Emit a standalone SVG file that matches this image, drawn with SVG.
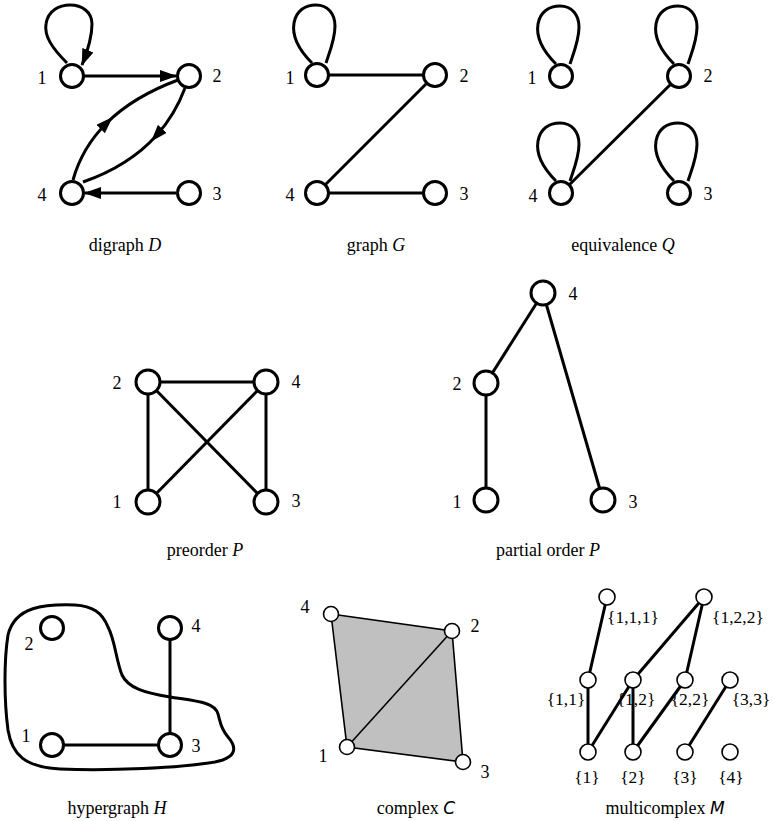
<svg xmlns="http://www.w3.org/2000/svg" xmlns:xlink="http://www.w3.org/1999/xlink" width="774" height="821" viewBox="0 0 774 821">
<style>
.n{fill:#fff;stroke:#000;stroke-width:3}
.sn{fill:#fff;stroke:#000;stroke-width:1.6}
.e{fill:none;stroke:#000;stroke-width:3}
.te{fill:none;stroke:#000;stroke-width:1.6}
.t{font-family:"Liberation Serif","Times New Roman",serif;font-size:18px;fill:#000}
.c{text-anchor:middle}
.i{font-style:italic}
.cal{font-family:"DejaVu Sans","Liberation Sans",sans-serif;font-style:italic;font-size:17px}
.ml{font-family:"Liberation Serif","Times New Roman",serif;font-size:17.5px;text-anchor:middle}
</style>
<defs>
<marker id="arr" markerUnits="userSpaceOnUse" viewBox="0 0 17 12" markerWidth="17" markerHeight="12" refX="16" refY="6" orient="auto"><path d="M0,0 L17,6 L0,12 z" fill="#000"/></marker>
<marker id="arrm" markerUnits="userSpaceOnUse" viewBox="0 0 17 12" markerWidth="17" markerHeight="12" refX="8.5" refY="6" orient="auto"><path d="M0,0 L17,6 L0,12 z" fill="#000"/></marker>
<path id="loop" d="M-5,-12 C-20,-27 -25,-40 -23,-52 C-21,-64 -12,-70 -1,-70 C11,-70 18,-61 18,-49 C18,-36 13,-24 9,-12"/>
</defs>

<g id="connectors">
  <!-- digraph D -->
  <path class="e" d="M67,63 C52,48 44,36 46,24 C48,10 60,5 70,5 C82,5 92,12 92,24 C92,36 88,50 82,65" marker-end="url(#arr)"/>
  <line class="e" x1="84" y1="76" x2="176" y2="76" marker-end="url(#arr)"/>
  <line class="e" x1="176" y1="193" x2="85" y2="193" marker-end="url(#arr)"/>
  <path class="e" d="M73,180 Q82.1,147.4 106.7,123" marker-end="url(#arrm)"/>
  <path class="e" d="M106.7,123 Q133.3,96.6 178,80"/>
  <path class="e" d="M185,88 Q175,114.8 156.7,135.2" marker-end="url(#arrm)"/>
  <path class="e" d="M156.7,135.2 Q129.2,165.8 83,182"/>
  <!-- graph G -->
  <use href="#loop" xlink:href="#loop" class="e" x="317" y="75"/>
  <line class="e" x1="317" y1="75" x2="435" y2="75"/>
  <line class="e" x1="435" y1="75" x2="317" y2="193"/>
  <line class="e" x1="317" y1="193" x2="435" y2="193"/>
  <!-- equivalence Q -->
  <use href="#loop" xlink:href="#loop" class="e" x="561" y="76"/>
  <use href="#loop" xlink:href="#loop" class="e" x="679" y="76"/>
  <use href="#loop" xlink:href="#loop" class="e" x="561" y="193"/>
  <use href="#loop" xlink:href="#loop" class="e" x="679" y="193"/>
  <line class="e" x1="679" y1="76" x2="561" y2="193"/>
  <!-- preorder P -->
  <line class="e" x1="148" y1="382" x2="266" y2="382"/>
  <line class="e" x1="148" y1="382" x2="148" y2="502"/>
  <line class="e" x1="266" y1="382" x2="266" y2="502"/>
  <line class="e" x1="148" y1="382" x2="266" y2="502"/>
  <line class="e" x1="266" y1="382" x2="148" y2="502"/>
  <!-- partial order P -->
  <line class="e" x1="543" y1="293" x2="486" y2="383"/>
  <line class="e" x1="543" y1="293" x2="603" y2="500"/>
  <line class="e" x1="486" y1="383" x2="486" y2="500"/>
  <!-- hypergraph H -->
  <path id="hyperedge" class="e" d="M75,605 C45,604 15,606 8,635 C4,660 4,700 8,730 C12,755 25,767 60,769 C110,771 180,768 215,762 C240,757 235,745 228,737 C220,728 220,720 218,714 C215,702 195,701 170,697 C145,693 128,688 122,675 C116,660 115,640 108,627 C102,612 92,606 75,605 Z"/>
  <line class="e" x1="52" y1="745" x2="170" y2="745"/>
  <line class="e" x1="170" y1="628" x2="170" y2="745"/>
  <!-- complex C -->
  <polygon points="331,614 452,631 463,762 347,747" fill="#c0c0c0" stroke="#000" stroke-width="1.6"/>
  <line class="te" x1="347" y1="747" x2="452" y2="631"/>
  <!-- multicomplex M -->
  <line class="e" x1="607" y1="597" x2="588" y2="680"/>
  <line class="e" x1="704" y1="597" x2="633" y2="680"/>
  <line class="e" x1="704" y1="597" x2="685" y2="680"/>
  <line class="e" x1="588" y1="680" x2="588" y2="752"/>
  <line class="e" x1="633" y1="680" x2="588" y2="752"/>
  <line class="e" x1="633" y1="680" x2="633" y2="752"/>
  <line class="e" x1="685" y1="680" x2="633" y2="752"/>
  <line class="e" x1="730" y1="680" x2="685" y2="752"/>
</g>

<g id="D">
  <g id="D1"><circle class="n" cx="72" cy="76" r="11.5"/><text class="t c" x="42" y="84">1</text></g>
  <g id="D2"><circle class="n" cx="189" cy="76" r="11.5"/><text class="t c" x="217" y="82">2</text></g>
  <g id="D4"><circle class="n" cx="72" cy="193" r="11.5"/><text class="t c" x="42" y="201">4</text></g>
  <g id="D3"><circle class="n" cx="189" cy="193" r="11.5"/><text class="t c" x="217" y="200">3</text></g>
  <text class="t c" x="125" y="251">digraph <tspan class="i">D</tspan></text>
</g>

<g id="G">
  <g id="G1"><circle class="n" cx="317" cy="75" r="11.5"/><text class="t c" x="290" y="84">1</text></g>
  <g id="G2"><circle class="n" cx="435" cy="75" r="11.5"/><text class="t c" x="464" y="82">2</text></g>
  <g id="G4"><circle class="n" cx="317" cy="193" r="11.5"/><text class="t c" x="290" y="201">4</text></g>
  <g id="G3"><circle class="n" cx="435" cy="193" r="11.5"/><text class="t c" x="464" y="200">3</text></g>
  <text class="t c" x="376" y="251">graph <tspan class="i">G</tspan></text>
</g>

<g id="Q">
  <g id="Q1"><circle class="n" cx="561" cy="76" r="11.5"/><text class="t c" x="532" y="84">1</text></g>
  <g id="Q2"><circle class="n" cx="679" cy="76" r="11.5"/><text class="t c" x="708" y="82">2</text></g>
  <g id="Q4"><circle class="n" cx="561" cy="193" r="11.5"/><text class="t c" x="533" y="202">4</text></g>
  <g id="Q3"><circle class="n" cx="679" cy="193" r="11.5"/><text class="t c" x="708" y="200">3</text></g>
  <text class="t c" x="623" y="251">equivalence <tspan class="i">Q</tspan></text>
</g>

<g id="PRE">
  <g id="PRE2"><circle class="n" cx="148" cy="382" r="12"/><text class="t c" x="117" y="389">2</text></g>
  <g id="PRE4"><circle class="n" cx="266" cy="382" r="12"/><text class="t c" x="296" y="388">4</text></g>
  <g id="PRE1"><circle class="n" cx="148" cy="502" r="12"/><text class="t c" x="117" y="508">1</text></g>
  <g id="PRE3"><circle class="n" cx="266" cy="502" r="12"/><text class="t c" x="296" y="507">3</text></g>
  <text class="t c" x="205" y="556">preorder <tspan class="i">P</tspan></text>
</g>

<g id="PO">
  <g id="PO4"><circle class="n" cx="543" cy="293" r="12"/><text class="t c" x="573" y="300">4</text></g>
  <g id="PO2"><circle class="n" cx="486" cy="383" r="12"/><text class="t c" x="457" y="390">2</text></g>
  <g id="PO1"><circle class="n" cx="486" cy="500" r="12"/><text class="t c" x="457" y="508">1</text></g>
  <g id="PO3"><circle class="n" cx="603" cy="500" r="12"/><text class="t c" x="633" y="508">3</text></g>
  <text class="t c" x="548" y="556">partial order <tspan class="i">P</tspan></text>
</g>

<g id="H">
  <g id="H2"><circle class="n" cx="52" cy="628" r="11.5"/><text class="t c" x="29" y="650">2</text></g>
  <g id="H4"><circle class="n" cx="170" cy="628" r="11.5"/><text class="t c" x="196" y="632">4</text></g>
  <g id="H1"><circle class="n" cx="52" cy="745" r="11.5"/><text class="t c" x="26" y="742">1</text></g>
  <g id="H3"><circle class="n" cx="170" cy="745" r="11.5"/><text class="t c" x="196" y="752">3</text></g>
  <text class="t c" x="117" y="814">hypergraph <tspan class="i">H</tspan></text>
</g>

<g id="C">
  <g id="C4"><circle class="sn" cx="331" cy="614" r="7.5"/><text class="t c" x="305" y="613">4</text></g>
  <g id="C2"><circle class="sn" cx="452" cy="631" r="7.5"/><text class="t c" x="475" y="632">2</text></g>
  <g id="C1"><circle class="sn" cx="347" cy="747" r="7.5"/><text class="t c" x="323" y="762">1</text></g>
  <g id="C3"><circle class="sn" cx="463" cy="762" r="7.5"/><text class="t c" x="485" y="778">3</text></g>
  <text class="t c" x="416" y="814">complex <tspan class="cal">C</tspan></text>
</g>

<g id="M">
  <g id="M111"><circle class="sn" cx="607" cy="597" r="8"/><text class="ml" x="633" y="623">{1,1,1}</text></g>
  <g id="M122"><circle class="sn" cx="704" cy="597" r="8"/><text class="ml" x="738" y="623">{1,2,2}</text></g>
  <g id="M11"><circle class="sn" cx="588" cy="680" r="8"/><text class="ml" x="566" y="705">{1,1}</text></g>
  <g id="M12"><circle class="sn" cx="633" cy="680" r="8"/><text class="ml" x="636" y="705">{1,2}</text></g>
  <g id="M22"><circle class="sn" cx="685" cy="680" r="8"/><text class="ml" x="690" y="705">{2,2}</text></g>
  <g id="M33"><circle class="sn" cx="730" cy="680" r="8"/><text class="ml" x="751" y="705">{3,3}</text></g>
  <g id="M1"><circle class="sn" cx="588" cy="752" r="8"/><text class="ml" x="587" y="783">{1}</text></g>
  <g id="M2"><circle class="sn" cx="633" cy="752" r="8"/><text class="ml" x="633" y="783">{2}</text></g>
  <g id="M3"><circle class="sn" cx="685" cy="752" r="8"/><text class="ml" x="685" y="783">{3}</text></g>
  <g id="M4"><circle class="sn" cx="730" cy="752" r="8"/><text class="ml" x="731" y="783">{4}</text></g>
  <text class="t c" x="665" y="814">multicomplex <tspan class="cal">M</tspan></text>
</g>
</svg>
